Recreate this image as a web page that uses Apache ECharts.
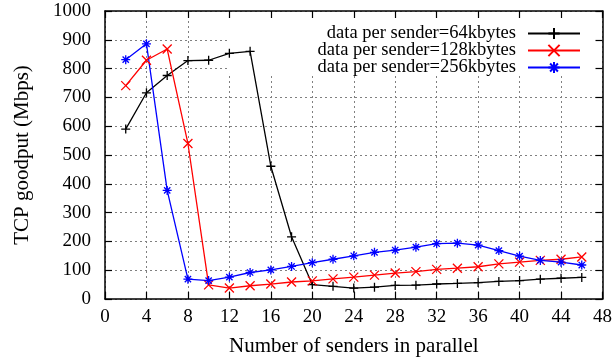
<!DOCTYPE html>
<html>
<head>
<meta charset="utf-8">
<script src="https://cdn.jsdelivr.net/npm/echarts@6/dist/echarts.min.js"></script>
<style>
  html, body { margin: 0; padding: 0; background: #fff; }
  #chart { width: 615px; height: 362px; }
</style>
</head>
<body>
<div id="chart"></div>
<script>
// Number of parallel senders
const senders = [2, 4, 6, 8, 10, 12, 14, 16, 18, 20, 22, 24, 26, 28, 30, 32, 34, 36, 38, 40, 42, 44, 46];

// TCP goodput (Mbps) per amount of data sent by each sender
const goodput64k  = [590, 716, 776, 828, 829, 853, 860, 461, 216, 50, 44, 38, 41, 47, 48, 52, 54, 57, 61, 64, 69, 72, 75];
const goodput128k = [741, 829, 868, 540, 49, 38, 46, 52, 59, 63, 70, 76, 83, 90, 95, 103, 107, 112, 122, 128, 134, 138, 146];
const goodput256k = [831, 886, 377, 69, 64, 76, 92, 101, 113, 126, 138, 150, 162, 170, 180, 192, 194, 187, 168, 149, 134, 128, 118];

const seriesNames = [
  'data per sender=64kbytes',
  'data per sender=128kbytes',
  'data per sender=256kbytes'
];

const FONT = '"Liberation Serif", "DejaVu Serif", serif';

// point glyphs: plus, cross and asterisk drawn as strokes
const SYM_PLUS = 'path://M0,5 L10,5 M5,0 L5,10';
const SYM_CROSS = 'path://M0,0 L10,10 M0,10 L10,0';
const SYM_STAR = 'path://M0,5 L10,5 M5,0 L5,10 M1.5,1.5 L8.5,8.5 M1.5,8.5 L8.5,1.5';

function pairs(ys) {
  return senders.map((x, i) => [x, ys[i]]);
}

function makeSeries(name, ys, color, symbol) {
  return {
    name: name,
    type: 'line',
    xAxisIndex: 0,
    yAxisIndex: 0,
    data: pairs(ys),
    symbol: symbol,
    symbolSize: 9,
    showAllSymbol: true,
    z: 5,
    lineStyle: { color: color, width: 1.3 },
    itemStyle: { color: color, borderColor: color, borderWidth: 1.3 },
    emphasis: { disabled: true },
    animation: false
  };
}

const frameLine = { show: true, onZero: false, lineStyle: { color: '#000', width: 1.5 } };
const tickIn = { show: true, inside: true, length: 7, lineStyle: { color: '#000', width: 1.2 } };
const gridDots = { show: true, lineStyle: { color: '#808080', width: 1, type: [2, 3] } };
const plain = v => String(v);

const chart = echarts.init(document.getElementById('chart'), null, { renderer: 'canvas' });

chart.setOption({
  animation: false,
  backgroundColor: '#fff',
  grid: { left: 105, right: 12, top: 11, bottom: 61, containLabel: false },
  legend: {
    orient: 'vertical',
    align: 'right',
    right: 29,
    top: 19,
    itemWidth: 52,
    itemHeight: 14,
    itemGap: -2,
    selectedMode: false,
    data: seriesNames,
    textStyle: { fontFamily: FONT, fontSize: 18.5, lineHeight: 17.5, color: '#000', padding: [0, 7, 0, 0] }
  },
  graphic: [{
    type: 'rect',
    z: 1,
    silent: true,
    shape: { x: 227, y: 12, width: 375, height: 64 },
    style: { fill: '#fff' }
  }],
  xAxis: [
    {
      type: 'value', min: 0, max: 48, interval: 4, position: 'bottom', z: 4,
      axisLine: frameLine, axisTick: tickIn,
      axisLabel: { show: true, margin: 9, fontFamily: FONT, fontSize: 19, color: '#000', formatter: plain },
      splitLine: { show: false },
      name: 'Number of senders in parallel', nameLocation: 'middle', nameGap: 37,
      nameTextStyle: { fontFamily: FONT, fontSize: 21, color: '#000' }
    },
    {
      type: 'value', min: 0, max: 48, interval: 4, position: 'top', z: 4,
      axisLine: frameLine, axisTick: tickIn,
      axisLabel: { show: false }, splitLine: { show: false }
    },
    {
      type: 'value', min: 0, max: 48, interval: 4, position: 'bottom', z: 0,
      axisLine: { show: false }, axisTick: { show: false }, axisLabel: { show: false },
      splitLine: gridDots
    }
  ],
  yAxis: [
    {
      type: 'value', min: 0, max: 1000, interval: 100, position: 'left', z: 4,
      axisLine: frameLine, axisTick: tickIn,
      axisLabel: { show: true, margin: 14, fontFamily: FONT, fontSize: 19, color: '#000', formatter: plain },
      splitLine: { show: false },
      name: 'TCP goodput (Mbps)', nameLocation: 'middle', nameGap: 72, nameRotate: 90,
      nameTextStyle: { fontFamily: FONT, fontSize: 21, color: '#000' }
    },
    {
      type: 'value', min: 0, max: 1000, interval: 100, position: 'right', z: 4,
      axisLine: frameLine, axisTick: tickIn,
      axisLabel: { show: false }, splitLine: { show: false }
    },
    {
      type: 'value', min: 0, max: 1000, interval: 100, position: 'left', z: 0,
      axisLine: { show: false }, axisTick: { show: false }, axisLabel: { show: false },
      splitLine: gridDots
    }
  ],
  series: [
    makeSeries(seriesNames[0], goodput64k, '#000000', SYM_PLUS),
    makeSeries(seriesNames[1], goodput128k, '#ff0000', SYM_CROSS),
    makeSeries(seriesNames[2], goodput256k, '#0000ff', SYM_STAR)
  ]
});
</script>
</body>
</html>
